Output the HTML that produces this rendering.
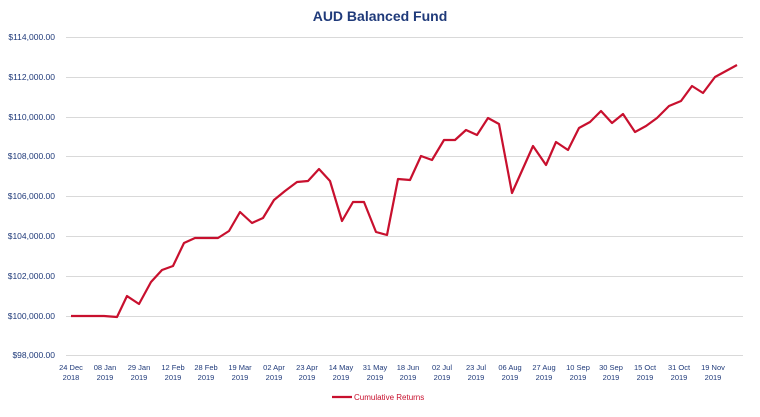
<!DOCTYPE html>
<html><head><meta charset="utf-8"><style>
body{margin:0;background:#fff;}
svg text{font-family:"Liberation Sans",sans-serif;}
</style></head><body>
<svg width="760" height="412" viewBox="0 0 760 412" xmlns="http://www.w3.org/2000/svg">
<rect width="760" height="412" fill="#fff"/>
<text x="380" y="21" text-anchor="middle" font-size="14" font-weight="bold" fill="#1f3a7a">AUD Balanced Fund</text>
<g stroke="#d9d9d9" stroke-width="1">
<line x1="66" x2="743" y1="37.5" y2="37.5"/><line x1="66" x2="743" y1="77.5" y2="77.5"/>
<line x1="66" x2="743" y1="117.5" y2="117.5"/><line x1="66" x2="743" y1="156.5" y2="156.5"/>
<line x1="66" x2="743" y1="196.5" y2="196.5"/><line x1="66" x2="743" y1="236.5" y2="236.5"/>
<line x1="66" x2="743" y1="276.5" y2="276.5"/><line x1="66" x2="743" y1="316.5" y2="316.5"/>
<line x1="66" x2="743" y1="355.5" y2="355.5"/>
</g>
<g font-size="8.5" fill="#1f3a7a" text-anchor="end">
<text x="55" y="40">$114,000.00</text><text x="55" y="80">$112,000.00</text>
<text x="55" y="120">$110,000.00</text><text x="55" y="159">$108,000.00</text>
<text x="55" y="199">$106,000.00</text><text x="55" y="239">$104,000.00</text>
<text x="55" y="279">$102,000.00</text><text x="55" y="319">$100,000.00</text>
<text x="55" y="358">$98,000.00</text>
</g>
<g font-size="7.5" fill="#1f3a7a" text-anchor="middle">
<text x="71" y="370">24 Dec</text><text x="71" y="380">2018</text>
<text x="105" y="370">08 Jan</text><text x="105" y="380">2019</text>
<text x="139" y="370">29 Jan</text><text x="139" y="380">2019</text>
<text x="173" y="370">12 Feb</text><text x="173" y="380">2019</text>
<text x="206" y="370">28 Feb</text><text x="206" y="380">2019</text>
<text x="240" y="370">19 Mar</text><text x="240" y="380">2019</text>
<text x="274" y="370">02 Apr</text><text x="274" y="380">2019</text>
<text x="307" y="370">23 Apr</text><text x="307" y="380">2019</text>
<text x="341" y="370">14 May</text><text x="341" y="380">2019</text>
<text x="375" y="370">31 May</text><text x="375" y="380">2019</text>
<text x="408" y="370">18 Jun</text><text x="408" y="380">2019</text>
<text x="442" y="370">02 Jul</text><text x="442" y="380">2019</text>
<text x="476" y="370">23 Jul</text><text x="476" y="380">2019</text>
<text x="510" y="370">06 Aug</text><text x="510" y="380">2019</text>
<text x="544" y="370">27 Aug</text><text x="544" y="380">2019</text>
<text x="578" y="370">10 Sep</text><text x="578" y="380">2019</text>
<text x="611" y="370">30 Sep</text><text x="611" y="380">2019</text>
<text x="645" y="370">15 Oct</text><text x="645" y="380">2019</text>
<text x="679" y="370">31 Oct</text><text x="679" y="380">2019</text>
<text x="713" y="370">19 Nov</text><text x="713" y="380">2019</text>
</g>
<polyline fill="none" stroke="#c8102e" stroke-width="2.2" stroke-linejoin="round" points="71,316 104,316 117,317 127,296 139,304 151,282 162,270 173,266 184,243 195,238 207,238 218,238 229,231 240,212 252,223 263,218 274,200 285,191 297,182 308,181 319,169 330,181 342,221 353,202 364,202 376,232 387,235 398,179 410,180 421,156 432,160 444,140 455,140 466,130 477,135 488,118 499,124 512,193 533,146 546,165 556,142 568,150 579,128 590,122 601,111 612,123 623,114 635,132 646,126 657,118 669,106 681,101 692,86 703,93 715,77 737,65"/>
<line x1="332" x2="352" y1="397" y2="397" stroke="#c8102e" stroke-width="2.2"/>
<text x="354" y="400" font-size="8" fill="#c8102e">Cumulative Returns</text>
</svg>
</body></html>
